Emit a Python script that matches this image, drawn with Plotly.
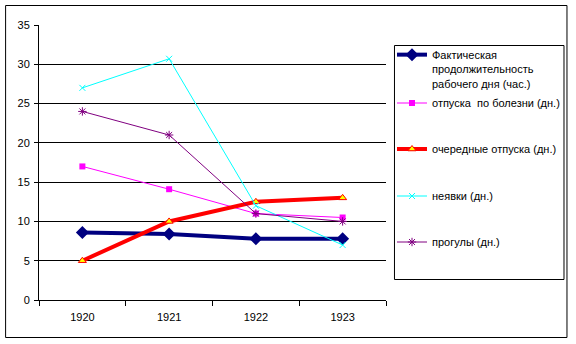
import plotly.graph_objects as go

years = ["1920", "1921", "1922", "1923"]
work_day_hours = [8.6, 8.4, 7.8, 7.8]
sick_leave_days = [17, 14.1, 11, 10.5]
regular_leave_days = [5, 10, 12.5, 13]
absence_days = [27, 30.7, 12, 7]
truancy_days = [24, 21, 11, 10]

names = [
    "Фактическая<br>продолжительность<br>рабочего дня (час.)",
    "отпуска  по болезни (дн.)",
    "очередные отпуска (дн.)",
    "неявки (дн.)",
    "прогулы (дн.)",
]

FONT = "Liberation Sans, Arial, sans-serif"
W, H = 576, 344
# plot area in pixels
PL, PR, PT, PB = 39, 387, 25, 300


def px_x(p):
    return (p - PL) / (PR - PL)


def px_y(p):
    return (PB - p) / (PB - PT)


fig = go.Figure()

fig.add_trace(go.Scatter(
    x=years, y=work_day_hours, name=names[0], mode="lines+markers",
    line=dict(color="#000080", width=4),
    marker=dict(symbol="diamond", size=10, color="#000080"),
    legend="legend",
))
fig.add_trace(go.Scatter(
    x=years, y=sick_leave_days, name=names[1], mode="lines+markers",
    line=dict(color="#FF00FF", width=1),
    marker=dict(symbol="square", size=6, color="#FF00FF"),
    legend="legend2",
))
fig.add_trace(go.Scatter(
    x=years, y=regular_leave_days, name=names[2], mode="lines+markers",
    line=dict(color="#FF0000", width=4),
    marker=dict(symbol="triangle-up", size=7, color="#FFFF00",
                line=dict(color="#FF0000", width=1)),
    legend="legend3",
))
fig.add_trace(go.Scatter(
    x=years, y=absence_days, name=names[3], mode="lines+markers",
    line=dict(color="#00FFFF", width=1),
    marker=dict(symbol="x-thin-open", size=6, color="#00FFFF",
                line=dict(color="#00FFFF", width=1)),
    legend="legend4",
))
fig.add_trace(go.Scatter(
    x=years, y=truancy_days, name=names[4], mode="lines+markers",
    line=dict(color="#800080", width=1),
    marker=dict(symbol="asterisk-open", size=7, color="#800080",
                line=dict(color="#800080", width=1)),
    legend="legend5",
))

leg_common = dict(
    bgcolor="rgba(0,0,0,0)", borderwidth=0,
    font=dict(family=FONT, size=11, color="black"),
    xanchor="left", x=px_x(392),
)
layout_legends = {
    "legend": dict(leg_common, y=px_y(41), yanchor="top", valign="top"),
    "legend2": dict(leg_common, y=px_y(103), yanchor="middle"),
    "legend3": dict(leg_common, y=px_y(149), yanchor="middle"),
    "legend4": dict(leg_common, y=px_y(196), yanchor="middle"),
    "legend5": dict(leg_common, y=px_y(242), yanchor="middle"),
}

fig.update_layout(
    width=W, height=H,
    margin=dict(l=PL, r=W - PR, t=PT, b=H - PB, pad=0),
    paper_bgcolor="white", plot_bgcolor="white",
    font=dict(family=FONT, size=11, color="black"),
    showlegend=True,
    **layout_legends,
    xaxis=dict(
        type="category", range=[-0.5, 3.5], tickson="boundaries",
        ticks="outside", ticklen=5, tickcolor="black",
        showline=True, linecolor="black", linewidth=1,
        showgrid=False, zeroline=False, fixedrange=True,
        ticklabelstandoff=7,
        tickfont=dict(family=FONT, size=11, color="black"),
    ),
    yaxis=dict(
        range=[0, 35], dtick=5, tick0=0,
        ticks="outside", ticklen=4, tickcolor="black",
        showline=True, linecolor="black", linewidth=1,
        showgrid=False, zeroline=False, fixedrange=True,
        ticklabelstandoff=2,
        tickfont=dict(family=FONT, size=11, color="black"),
        minor=dict(tickvals=[5, 10, 15, 20, 25, 30], showgrid=True,
                   gridcolor="black", gridwidth=1, ticks=""),
    ),
    shapes=[
        # outer frame of the chart
        dict(type="rect", xref="paper", yref="paper",
             x0=px_x(5.5), x1=px_x(568.5), y0=px_y(337.5), y1=px_y(5.5),
             line=dict(color="black", width=1), fillcolor="rgba(0,0,0,0)",
             layer="above"),
        # legend frame
        dict(type="rect", xref="paper", yref="paper",
             x0=px_x(395.5), x1=px_x(565.5), y0=px_y(279.5), y1=px_y(45.5),
             line=dict(color="black", width=1), fillcolor="rgba(0,0,0,0)",
             layer="above"),
    ],
)

fig.write_html("out.html")
